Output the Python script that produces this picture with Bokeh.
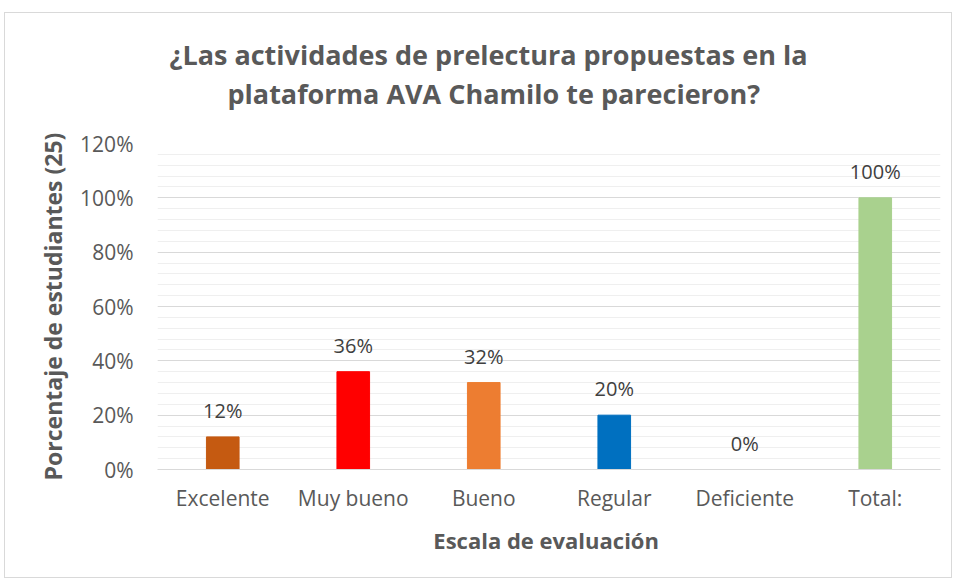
from bokeh.plotting import figure
from bokeh.models import ColumnDataSource, LabelSet, Title, NumeralTickFormatter, FixedTicker
from bokeh.core.properties import value
from bokeh.embed import file_html
from bokeh.resources import INLINE

categories = ["Excelente", "Muy bueno", "Bueno", "Regular", "Deficiente", "Total:"]
values = [0.12, 0.36, 0.32, 0.20, 0.0, 1.00]
colors = ["#C55A11", "#FF0000", "#ED7D31", "#0070C0", "#FFFFFF", "#A9D18E"]
value_labels = ["12%", "36%", "32%", "20%", "0%", "100%"]
y_ticks = [0, 0.2, 0.4, 0.6, 0.8, 1.0, 1.2]
y_minor_ticks = [round(i * 0.04, 2) for i in range(31)]
title_lines = ["¿Las actividades de prelectura propuestas  en la",
               "plataforma AVA Chamilo te parecieron?"]

FONT = "Open Sans"
GRAY = "#595959"

src = ColumnDataSource(dict(cat=categories, val=values, col=colors, lab=value_labels))

p = figure(x_range=categories, y_range=(0, 1.2), width=948, height=566, title=None,
           output_backend="svg", toolbar_location=None,
           min_border_left=152, min_border_right=13, min_border_top=130, min_border_bottom=110)
p.outline_line_color = None
p.styles = {"border": "1px solid #d9d9d9", "margin-left": "4px", "margin-top": "12px"}

p.vbar(x="cat", top="val", width=0.25, color="col", line_color="col", source=src)

labels = LabelSet(x="cat", y="val", text="lab", source=src, text_align="center",
                  text_baseline="bottom", y_offset=13, text_font=value(FONT),
                  text_font_size="20px", text_color="#404040")
p.add_layout(labels)

p.yaxis.ticker = FixedTicker(ticks=y_ticks, minor_ticks=y_minor_ticks)
p.yaxis.formatter = NumeralTickFormatter(format="0%")
p.yaxis.axis_line_color = None
p.yaxis.major_tick_line_color = None
p.yaxis.minor_tick_line_color = None
p.yaxis.major_tick_out = 0
p.yaxis.minor_tick_out = 0
p.yaxis.major_label_standoff = 24
p.yaxis.major_label_text_font = FONT
p.yaxis.major_label_text_font_size = "21px"
p.yaxis.major_label_text_color = GRAY
p.yaxis.axis_label = "Porcentaje de estudiantes (25)"
p.yaxis.axis_label_standoff = 8
p.yaxis.axis_label_text_font = FONT
p.yaxis.axis_label_text_font_size = "23px"
p.yaxis.axis_label_text_font_style = "bold"
p.yaxis.axis_label_text_color = GRAY

p.xaxis.axis_line_color = "#d9d9d9"
p.xaxis.major_tick_line_color = None
p.xaxis.minor_tick_line_color = None
p.xaxis.major_tick_out = 0
p.xaxis.minor_tick_out = 0
p.xaxis.major_label_standoff = 14
p.xaxis.major_label_text_font = FONT
p.xaxis.major_label_text_font_size = "21px"
p.xaxis.major_label_text_color = GRAY
p.xaxis.axis_label = "Escala  de evaluación"
p.xaxis.axis_label_standoff = 10
p.xaxis.axis_label_text_font = FONT
p.xaxis.axis_label_text_font_size = "22px"
p.xaxis.axis_label_text_font_style = "bold"
p.xaxis.axis_label_text_color = GRAY

p.xgrid.grid_line_color = None
p.ygrid.grid_line_color = "#d9d9d9"
p.ygrid.minor_grid_line_color = "#efefef"

p.add_layout(Title(text=title_lines[1], align="left", offset=70, standoff=0,
                   padding=dict(left=0, right=0, top=0, bottom=32),
                   text_font=FONT, text_font_size="27px",
                   text_font_style="bold", text_color=GRAY), "above")
p.add_layout(Title(text=title_lines[0], align="left", offset=12, standoff=0,
                   text_font=FONT, text_font_size="27px",
                   text_font_style="bold", text_color=GRAY), "above")

open("out.html", "w").write(file_html(p, INLINE))
